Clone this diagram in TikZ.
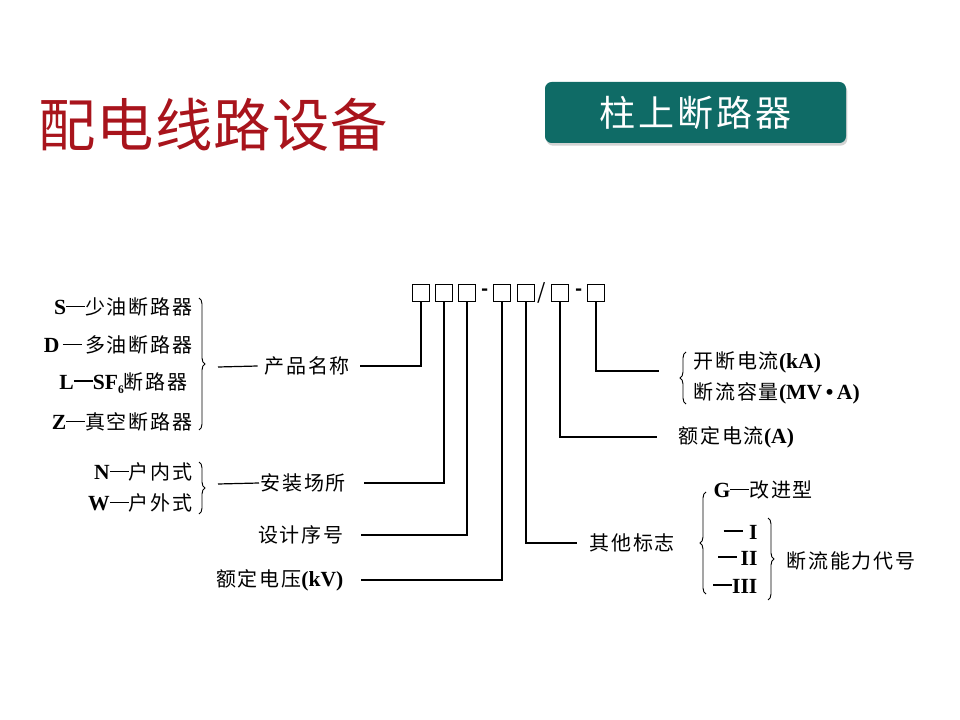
\documentclass[tikz,border=0pt]{standalone}
\usepackage{fontspec}
\setmainfont{Noto Sans CJK SC}[LetterSpace=9]
\newfontfamily\titlefont{Noto Sans CJK SC}[LetterSpace=2]
\newfontfamily\latinfont{Liberation Serif}[Scale=1.08]
\usetikzlibrary{decorations.pathreplacing,shadows}

\newcommand\latn[1]{{\latinfont\bfseries #1}}
\newcommand\dsh{\rule[0.36em]{0.95em}{0.09em}}
\definecolor{titlered}{HTML}{A8141C}
\definecolor{boxteal}{HTML}{0F6B66}

\tikzset{
  lbl/.style={font=\fontsize{15}{18}\selectfont, inner sep=1pt},
  codebox/.style={draw, line width=0.9pt, minimum size=12.5pt, inner sep=0pt},
  lead/.style={line width=0.9pt},
  brc/.style={decorate, decoration={brace, amplitude=4.5pt}, line width=0.7pt}
}

\begin{document}
\begin{tikzpicture}[x=0.75pt, y=-0.75pt]
	\useasboundingbox (0,0) rectangle (960,720);

	% Titel und Kasten
	\node[anchor=west, text=titlered, font=\titlefont\fontsize{43}{48}\selectfont, inner sep=0pt] (title) at (38,125) {配电线路设备};
	\node[fill=boxteal, rounded corners=5pt, minimum width=225.75pt, minimum height=45.75pt,
	      drop shadow={opacity=0.35, shadow xshift=1pt, shadow yshift=-2pt},
	      text=white, font=\fontsize{27}{30}\selectfont] (head) at (695.5,112.5) {柱上断路器};

	% Kennzeichnung
	\node[codebox] (b1) at (421,293) {};
	\node[codebox] (b2) at (444,293) {};
	\node[codebox] (b3) at (467,293) {};
	\node[inner sep=0pt, font=\bfseries\fontsize{14}{14}\selectfont] (d1) at (485,292) {-};
	\node[codebox] (b4) at (502,293) {};
	\node[codebox] (b5) at (526,293) {};
	\node[inner sep=0pt, font=\fontsize{16}{16}\selectfont] (sl) at (542,293) {/};
	\node[codebox] (b6) at (560,293) {};
	\node[inner sep=0pt, font=\bfseries\fontsize{14}{14}\selectfont] (d2) at (579,292) {-};
	\node[codebox] (b7) at (596,293) {};

	% linke Seite
	\node[lbl, anchor=east] (s) at (194,307) {\latn{S}\dsh 少油断路器};
	\node[lbl, anchor=east] (d) at (194,345) {\latn{D}\,\dsh\,多油断路器};
	\node[lbl, anchor=east] (l) at (189,383) {\latn{L}\dsh\latn{SF\raisebox{-0.45ex}{\footnotesize 6}}断路器};
	\node[lbl, anchor=east] (z) at (194,422) {\latn{Z}\dsh 真空断路器};
	\draw[brc] (199,298) -- (199,430);
	\coordinate (t1a) at (218,367);
	\node[lbl, anchor=west] (pname) at (263,366) {产品名称};
	\draw[lead] (t1a) -- ([xshift=-4pt]pname.west);

	\node[lbl, anchor=east] (n) at (194,472) {\latn{N}\dsh 户内式};
	\node[lbl, anchor=east] (w) at (194,503) {\latn{W}\dsh 户外式};
	\draw[brc] (199,462) -- (199,514);
	\coordinate (t2a) at (218,484);
	\node[lbl, anchor=west] (place) at (259,483) {安装场所};
	\draw[lead] (t2a) -- (place.west);

	\node[lbl, anchor=east] (serial) at (345,535) {设计序号};
	\node[lbl, anchor=east] (volt) at (345,580) {额定电压\latn{(kV)}};

	% rechte Seite
	\node[lbl, anchor=west] (brk) at (692,362) {开断电流\latn{(kA)}};
	\node[lbl, anchor=west] (cap) at (692,393) {断流容量\latn{(MV\,\textbullet\,A)}};
	\draw[brc] (686,404) -- (686,352);
	\coordinate (e7) at (659,371);

	\node[lbl, anchor=west] (curr) at (677,437) {额定电流\latn{(A)}};

	\node[lbl, anchor=west] (other) at (588,543) {其他标志};
	\draw[brc] (706,594) -- (706,492);
	\node[lbl, anchor=west] (g) at (712,490) {\latn{G}\dsh 改进型};
	\node[lbl, anchor=east] (r1) at (759,532) {\dsh\ \latn{I}};
	\node[lbl, anchor=east] (r2) at (759,558) {\dsh\,\latn{II}};
	\node[lbl, anchor=east] (r3) at (759,586) {\dsh\latn{III}};
	\draw[brc] (768,518) -- (768,600);
	\node[lbl, anchor=west] (ability) at (785,561) {断流能力代号};

	% Verbindungen
	\draw[lead] (b1.south) |- ([xshift=6pt]pname.east);
	\draw[lead] (b2.south) |- ([xshift=12pt]place.east);
	\draw[lead] (b3.south) |- ([xshift=12pt]serial.east);
	\draw[lead] (b4.south) |- ([xshift=12pt]volt.east);
	\draw[lead] (b5.south) |- ([xshift=-8pt]other.west);
	\draw[lead] (b6.south) |- ([xshift=-15pt]curr.west);
	\draw[lead] (b7.south) |- (e7);
\end{tikzpicture}
\end{document}
